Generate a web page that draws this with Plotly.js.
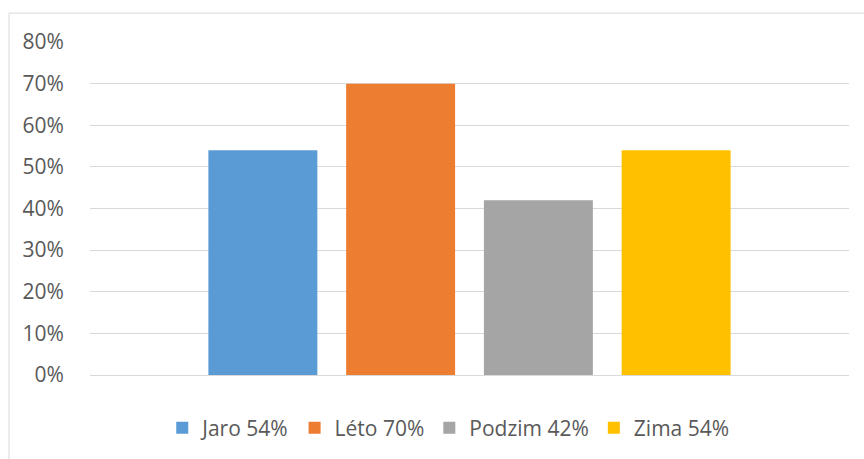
<!DOCTYPE html>
<html>
<head>
<meta charset="utf-8">
<script src="https://cdn.plot.ly/plotly-3.0.1.min.js"></script>
<style>html,body{margin:0;padding:0;background:#fff;}#chart{width:864px;height:459px;}</style>
</head>
<body>
<div id="chart"></div>
<script>
const seriesNames = ['Jaro 54%', 'Léto 70%', 'Podzim 42%', 'Zima 54%'];
const seriesValues = [0.54, 0.70, 0.42, 0.54];
const seriesColors = ['#5b9bd5', '#ed7d31', '#a5a5a5', '#ffc000'];
const category = ['Sezóna'];
const yTicks = [0, 0.1, 0.2, 0.3, 0.4, 0.5, 0.6, 0.7, 0.8];

const traces = seriesNames.map((n, i) => ({
  type: 'bar',
  name: n,
  x: category,
  y: [seriesValues[i]],
  marker: {color: seriesColors[i]},
  hoverinfo: 'name+y'
}));

const layout = {
  width: 864, height: 459,
  margin: {l: 90, r: 15, t: 42, b: 83},
  paper_bgcolor: '#ffffff', plot_bgcolor: '#ffffff',
  font: {family: 'Open Sans, sans-serif', color: '#595959', size: 21},
  barmode: 'group',
  bargap: 0.274,
  bargroupgap: 0.209,
  showlegend: true,
  legend: {orientation: 'h', x: 0.472, xanchor: 'center', y: -0.156, yanchor: 'middle',
           font: {size: 21, color: '#595959'}, traceorder: 'normal', itemwidth: 30},
  xaxis: {type: 'category', range: [-0.5, 0.5], showticklabels: false, showgrid: false,
          zeroline: false, showline: false, ticks: ''},
  yaxis: {range: [0, 0.8], tickvals: yTicks, tickformat: '.0%', showgrid: true,
          gridcolor: '#d9d9d9', gridwidth: 1, zeroline: true, zerolinecolor: '#d9d9d9',
          zerolinewidth: 1, showline: false, ticks: 'outside', ticklen: 21,
          tickcolor: 'rgba(0,0,0,0)', tickfont: {size: 21, color: '#595959'}},
  shapes: [{type: 'rect', xref: 'paper', yref: 'paper', x0: -0.1067, x1: 1.03, y0: -0.5, y1: 1.0868,
            line: {color: '#d9d9d9', width: 1}, fillcolor: 'rgba(0,0,0,0)', layer: 'below'}]
};

Plotly.newPlot('chart', traces, layout, {displayModeBar: false, staticPlot: true});
</script>
</body>
</html>
